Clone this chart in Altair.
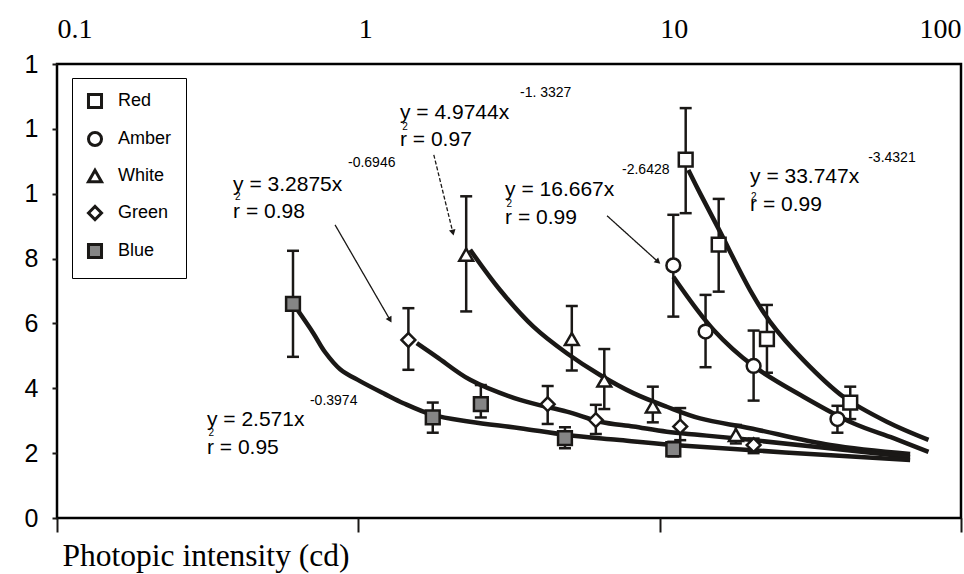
import altair as alt
import pandas as pd

series_names = ["Red", "Amber", "White", "Green", "Blue"]

red_x = [12.2, 15.7, 22.7, 42.9]
red_y = [11.05, 8.43, 5.52, 3.56]
red_lo = [9.4, 6.98, 4.48, 3.05]
red_hi = [12.64, 9.84, 6.57, 4.05]

amber_x = [11.1, 14.2, 20.5, 38.9]
amber_y = [7.79, 5.75, 4.69, 3.05]
amber_lo = [6.21, 4.65, 3.62, 2.63]
amber_hi = [9.35, 6.88, 5.78, 3.46]

white_x = [2.28, 5.11, 6.55, 9.49, 17.9]
white_y = [8.12, 5.52, 4.24, 3.44, 2.56]
white_lo = [6.37, 4.55, 3.36, 2.95, 2.3]
white_hi = [9.92, 6.54, 5.21, 4.05, 2.87]

green_x = [1.466, 4.25, 6.14, 11.7, 20.5]
green_y = [5.49, 3.51, 3.02, 2.82, 2.25]
green_lo = [4.57, 2.9, 2.59, 2.4, 2.0]
green_hi = [6.47, 4.07, 3.49, 3.39, 2.45]

blue_x = [0.607, 1.766, 2.55, 4.85, 11.1]
blue_y = [6.6, 3.1, 3.51, 2.46, 2.12]
blue_lo = [4.97, 2.63, 3.1, 2.15, 1.9]
blue_hi = [8.24, 3.56, 4.1, 2.8, 2.35]

# ---- fitted power curves as drawn ----
red_fit_x = [12.45, 13.62, 15.66, 19.95, 23.25, 29.99, 40.7, 56.7, 78.0]
red_fit_y = [10.73, 10.01, 8.93, 7.03, 6.05, 4.87, 3.74, 2.97, 2.41]

amber_fit_x = [11.1, 15.1, 20.46, 29.99, 43.9, 59.7, 78.0]
amber_fit_y = [7.44, 5.80, 4.69, 3.74, 2.92, 2.46, 2.04]

white_fit_x = [2.35, 2.953, 3.81, 4.918, 6.34, 8.18, 10.56, 13.62, 19.95, 36.8, 67.8]
white_fit_y = [8.27, 7.03, 5.90, 5.08, 4.41, 3.85, 3.43, 3.07, 2.77, 2.25, 1.97]

green_fit_x = [1.563, 1.82, 2.35, 3.44, 4.918, 6.34, 8.18, 10.56, 13.62, 19.95, 67.8]
green_fit_y = [5.39, 4.97, 4.26, 3.64, 3.28, 2.97, 2.82, 2.66, 2.56, 2.41, 1.88]

blue_fit_x = [0.617, 0.709, 0.775, 0.870, 1.013, 1.226, 1.411, 1.766, 2.35, 3.44, 4.918, 7.21, 11.1, 67.8]
blue_fit_y = [6.52, 5.70, 5.12, 4.59, 4.22, 3.82, 3.54, 3.18, 2.97, 2.77, 2.56, 2.41, 2.25, 1.79]

# ---- annotations (anchor positions in data space) ----
eq_text = ["y = 3.2875x", "r = 0.98", "y = 4.9744x", "r = 0.97", "y = 16.667x", "r = 0.99",
           "y = 33.747x", "r = 0.99", "y = 2.571x", "r = 0.95"]
eq_x = [0.384, 0.384, 1.375, 1.375, 3.07, 3.07, 19.95, 19.95, 0.3146, 0.3146]
eq_y = [10.27, 9.44, 12.49, 11.66, 10.11, 9.25, 10.51, 9.65, 3.02, 2.16]

exp_text = ["-0.6946", "-1. 3327", "-2.6428", "-3.4321", "-0.3974"]
exp_x = [0.924, 3.44, 7.50, 49.2, 0.691]
exp_y = [10.95, 13.11, 10.73, 11.10, 3.61]

sq_text = ["2", "2", "2", "2", "2"]
sq_x = [0.39, 1.40, 3.10, 20.1, 0.318]
sq_y = [9.90, 12.06, 9.68, 9.90, 2.62]

arrow_x = [0.837, 1.78, 6.69]
arrow_y = [9.04, 11.2, 9.32]
arrow_x2 = [1.274, 2.06, 9.88]
arrow_y2 = [6.11, 8.8, 7.9]
arrow_angle = [150, 166, 132]

x_ticks = [0.1, 1, 10, 100]
y_ticks = [0, 2, 4, 6, 8, 10, 12, 14]

# ---- tables ----
pts = []
for name, xs, ys, los, his in [
    ("Red", red_x, red_y, red_lo, red_hi),
    ("Amber", amber_x, amber_y, amber_lo, amber_hi),
    ("White", white_x, white_y, white_lo, white_hi),
    ("Green", green_x, green_y, green_lo, green_hi),
    ("Blue", blue_x, blue_y, blue_lo, blue_hi),
]:
    for a, b, c, d in zip(xs, ys, los, his):
        pts.append({"series": name, "x": a, "y": b, "lo": c, "hi": d})
df_pts = pd.DataFrame(pts)

fit = []
for name, xs, ys in [
    ("Red", red_fit_x, red_fit_y),
    ("Amber", amber_fit_x, amber_fit_y),
    ("White", white_fit_x, white_fit_y),
    ("Green", green_fit_x, green_fit_y),
    ("Blue", blue_fit_x, blue_fit_y),
]:
    for i, (a, b) in enumerate(zip(xs, ys)):
        fit.append({"series": name, "x": a, "y": b, "order": i})
df_fit = pd.DataFrame(fit)

df_eq = pd.DataFrame({"t": eq_text, "x": eq_x, "y": eq_y})
df_exp = pd.DataFrame({"t": exp_text, "x": exp_x, "y": exp_y})
df_sq = pd.DataFrame({"t": sq_text, "x": sq_x, "y": sq_y})
df_arrow = pd.DataFrame({"x": arrow_x, "y": arrow_y, "x2": arrow_x2, "y2": arrow_y2})

INK = "#1a1816"
xscale = alt.Scale(type="log", domain=[0.1, 100], nice=False)
yscale = alt.Scale(domain=[0, 14], nice=False, zero=False)

top_axis = alt.Axis(orient="top", values=x_ticks, ticks=False, tickSize=0, domain=False, grid=False,
                    labelFont="Liberation Serif", labelFontSize=28, labelColor="black",
                    labelAlign={"condition": {"test": "datum.value >= 100", "value": "right"}, "value": "left"},
                    labelBaseline="alphabetic", labelPadding=27, labelFlush=False, labelOverlap=False,
                    format="~g", title=None)
bottom_axis = alt.Axis(orient="bottom", values=x_ticks, labels=False, ticks=True, tickSize=14,
                       tickWidth=2, tickColor=INK, domain=False, grid=False,
                       title="Photopic intensity (cd)", titleFont="Liberation Serif", titleFontSize=31.5,
                       titleFontWeight="normal", titleColor="black", titleAnchor="start", titleAlign="left",
                       titleX=5, titleY=38, titleBaseline="middle")
y_axis = alt.Axis(orient="left", values=y_ticks, labelExpr="datum.value >= 10 ? '1' : datum.label",
                  labelFont="Liberation Sans", labelFontSize=25, labelColor="black",
                  labelPadding=14, tickSize=5, tickWidth=2, tickColor=INK, domain=False, grid=False,
                  title=None)

legend = alt.Legend(title=None, orient="none", legendX=15, legendY=14,
                    strokeColor="black", fillColor="white", padding=14, rowPadding=12,
                    labelFont="Liberation Sans", labelFontSize=18, labelColor="black",
                    labelOffset=14, symbolSize=170, symbolStrokeWidth=3)

curves = alt.Chart(df_fit).mark_line(strokeWidth=4.5, color=INK, interpolate="catmull-rom").encode(
    x=alt.X("x:Q", scale=xscale, axis=top_axis),
    y=alt.Y("y:Q", scale=yscale, axis=None),
    detail="series:N",
    order="order:Q",
)

bars = alt.Chart(df_pts).mark_rule(strokeWidth=2.5, color=INK).encode(
    x=alt.X("x:Q", scale=xscale, axis=None),
    y=alt.Y("lo:Q", scale=yscale, axis=None),
    y2="hi:Q",
)
cap_hi = alt.Chart(df_pts).mark_tick(orient="horizontal", size=12, thickness=2.5, color=INK, opacity=1).encode(
    x=alt.X("x:Q", scale=xscale, axis=None),
    y=alt.Y("hi:Q", scale=yscale, axis=None),
)
cap_lo = alt.Chart(df_pts).mark_tick(orient="horizontal", size=12, thickness=2.5, color=INK, opacity=1).encode(
    x=alt.X("x:Q", scale=xscale, axis=None),
    y=alt.Y("lo:Q", scale=yscale, axis=None),
)

points = alt.Chart(df_pts).mark_point(filled=True, strokeWidth=2.5, size=190, opacity=1).encode(
    x=alt.X("x:Q", scale=xscale, axis=bottom_axis),
    y=alt.Y("y:Q", scale=yscale, axis=y_axis),
    shape=alt.Shape("series:N", scale=alt.Scale(domain=series_names,
                    range=["square", "circle", "triangle-up", "diamond", "square"]), legend=legend),
    fill=alt.Fill("series:N", scale=alt.Scale(domain=series_names,
                  range=["white", "white", "white", "white", "#858585"]), legend=legend),
    stroke=alt.Stroke("series:N", scale=alt.Scale(domain=series_names,
                      range=[INK, INK, INK, INK, INK]), legend=legend),
)

eq_layer = alt.Chart(df_eq).mark_text(align="left", baseline="middle", font="Liberation Sans",
                                      fontSize=21, color="black").encode(
    x=alt.X("x:Q", scale=xscale, axis=None), y=alt.Y("y:Q", scale=yscale, axis=None), text="t:N")
exp_layer = alt.Chart(df_exp).mark_text(align="left", baseline="middle", font="Liberation Sans",
                                        fontSize=14, color="black").encode(
    x=alt.X("x:Q", scale=xscale, axis=None), y=alt.Y("y:Q", scale=yscale, axis=None), text="t:N")
sq_layer = alt.Chart(df_sq).mark_text(align="left", baseline="middle", font="Liberation Sans",
                                      fontSize=10, color="black").encode(
    x=alt.X("x:Q", scale=xscale, axis=None), y=alt.Y("y:Q", scale=yscale, axis=None), text="t:N")

arrow_lines = []
for i in range(len(arrow_x)):
    one = df_arrow.iloc[[i]]
    dash = [4, 2] if i == 1 else [1, 0]
    arrow_lines.append(alt.Chart(one).mark_rule(strokeWidth=1.3, color=INK, strokeDash=dash).encode(
        x=alt.X("x:Q", scale=xscale, axis=None), y=alt.Y("y:Q", scale=yscale, axis=None),
        x2="x2:Q", y2="y2:Q"))
    arrow_lines.append(alt.Chart(one).mark_point(shape="triangle-up", filled=True, size=45,
                                                 color=INK, opacity=1, angle=arrow_angle[i]).encode(
        x=alt.X("x2:Q", scale=xscale, axis=None), y=alt.Y("y2:Q", scale=yscale, axis=None)))

chart = alt.layer(curves, bars, cap_hi, cap_lo, points, eq_layer, exp_layer, sq_layer, *arrow_lines).resolve_axis(
    x="independent", y="independent"
).properties(
    width=904, height=454,
    autosize=alt.AutoSizeParams(type="none"),
    padding={"left": 57, "top": 64, "right": 3, "bottom": 56},
    background="white",
).configure_view(stroke="black", strokeWidth=2.5)

chart.save("out.html", embed_options={"renderer": "svg", "actions": False})
